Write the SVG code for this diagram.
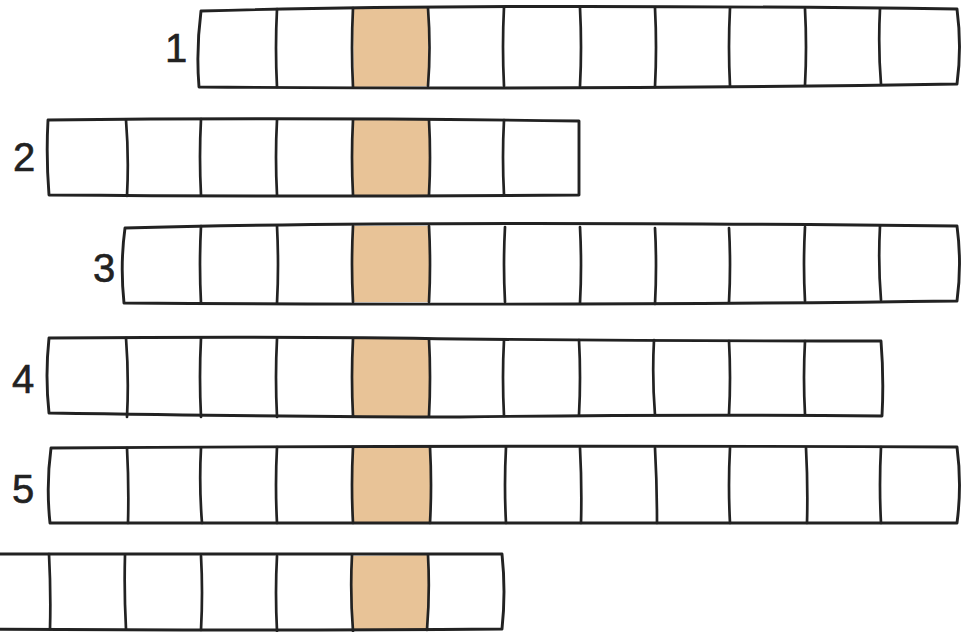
<svg xmlns="http://www.w3.org/2000/svg" width="966" height="632" viewBox="0 0 966 632">
<style>
.o{fill:none;stroke:#222;stroke-width:2.9;stroke-linejoin:round;stroke-linecap:round}
.d{fill:none;stroke:#222;stroke-width:2.7;stroke-linecap:round}
.h{fill:#e8c397;stroke:none}
.lbl{font-family:"Liberation Sans","DejaVu Sans",sans-serif;font-size:40px;fill:#222;stroke:#222;stroke-width:0.6;text-anchor:middle}
</style>
<rect width="966" height="632" fill="#fff"/>
<g id="row1">
<path class="h" d="M353,9 L428,8 L428,86 L354,87 Z"/>
<path class="o" d="M201,11 Q480,3 957,9 Q962,47 957,84 Q600,90 199,87 Q196,50 201,11 Z"/>
<path class="d" d="M277,9 Q275,48 277,87 M353,8 Q351,48 353,87 M428,8 Q431,48 428,86 M504,7 Q502,47 504,86 M580,8 Q582,47 580,86 M655,8 Q657,47 655,87 M730,8 Q728,47 730,86 M805,9 Q807,47 805,85 M880,9 Q878,47 881,84"/>
<text class="lbl" x="176" y="62">1</text>
</g>
<g id="row2">
<path class="h" d="M353,120 L429,120 L429,195 L353,195 Z"/>
<path class="o" d="M48,120 Q300,117 579,121 L579,195 Q300,197 49,195 Q46,157 48,120 Z"/>
<path class="d" d="M126,120 Q129,157 127,196 M201,119 Q199,157 201,195 M277,120 Q275,157 277,195 M353,120 Q351,157 353,195 M429,120 Q431,157 429,195 M504,120 Q502,157 504,195"/>
<text class="lbl" x="24" y="171">2</text>
</g>
<g id="row3">
<path class="h" d="M353,226 L429,226 L429,302 L353,302 Z"/>
<path class="o" d="M125,228 Q400,220 957,226 Q962,264 957,301 Q600,306 124,303 Q120,265 125,228 Z"/>
<path class="d" d="M201,226 Q199,265 201,303 M277,226 Q279,265 277,303 M353,226 Q351,265 353,302 M429,226 Q431,265 429,302 M505,227 Q503,265 505,302 M580,227 Q582,265 580,303 M655,228 Q657,265 655,304 M729,228 Q731,265 729,302 M805,227 Q803,265 805,301 M880,226 Q878,264 881,300"/>
<text class="lbl" x="104" y="282">3</text>
</g>
<g id="row4">
<path class="h" d="M353,338 L429,338 L429,416 L353,416 Z"/>
<path class="o" d="M49,338 Q300,336 460,339 Q680,341 881,341 Q884,378 882,416 Q680,414 460,417 Q300,417 49,413 Q45,376 49,338 Z"/>
<path class="d" d="M126,338 Q129,377 127,417 M201,338 Q199,377 201,417 M277,339 Q275,377 277,417 M353,339 Q351,377 353,416 M429,339 Q431,377 429,416 M504,340 Q502,377 504,416 M579,340 Q581,377 579,415 M654,340 Q652,377 655,415 M729,341 Q731,378 729,414 M805,341 Q803,378 805,414"/>
<text class="lbl" x="23" y="393">4</text>
</g>
<g id="row5">
<path class="h" d="M353,447 L430,447 L430,523 L353,523 Z"/>
<path class="o" d="M51,448 Q500,445 957,447 Q962,485 957,523 Q500,524 50,523 Q46,485 51,448 Z"/>
<path class="d" d="M127,448 Q129,485 128,523 M201,448 Q199,485 202,523 M277,447 Q275,485 277,523 M353,447 Q351,485 353,523 M430,447 Q432,485 430,523 M506,447 Q504,485 506,523 M580,448 Q582,485 581,523 M655,448 Q657,485 657,523 M730,448 Q728,485 730,523 M806,448 Q808,485 807,523 M881,447 Q879,485 881,523"/>
<text class="lbl" x="23" y="503">5</text>
</g>
<g id="row6">
<path class="h" d="M352,556 L428,555 L428,630 L352,630 Z"/>
<path class="o" d="M-30,554 Q250,553 502,554 Q506,592 502,629 Q250,631 -30,629"/>
<path class="d" d="M49,554 Q51,592 50,629 M125,555 Q124,592 126,629 M201,556 Q203,592 201,630 M277,556 Q275,592 277,631 M352,555 Q350,592 353,631 M428,555 Q430,592 427,630"/>
</g>
</svg>
